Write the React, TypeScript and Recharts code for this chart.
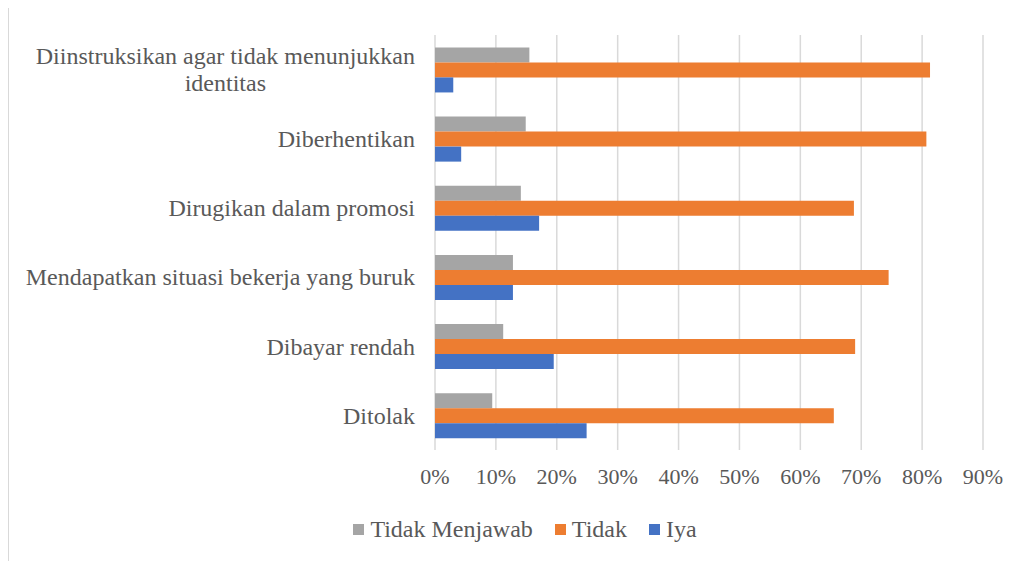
import {
  BarChart,
  Bar,
  XAxis,
  YAxis,
  CartesianGrid,
  Legend,
} from 'recharts'

const categories = [
  'Diinstruksikan agar tidak menunjukkan identitas',
  'Diberhentikan',
  'Dirugikan dalam promosi',
  'Mendapatkan situasi bekerja yang buruk',
  'Dibayar rendah',
  'Ditolak',
]
const tidakMenjawab = [15.5, 14.9, 14.1, 12.8, 11.2, 9.4]
const tidak = [81.3, 80.7, 68.8, 74.5, 69.0, 65.5]
const iya = [3.0, 4.3, 17.1, 12.8, 19.5, 24.9]
const xTicks = [0, 10, 20, 30, 40, 50, 60, 70, 80, 90]

// label wraps as in the original
const wrapped: Record<string, string[]> = {
  'Diinstruksikan agar tidak menunjukkan identitas': ['Diinstruksikan agar tidak menunjukkan', 'identitas'],
}

const FONT = '"Liberation Serif", "Times New Roman", serif'
const TEXT = '#595959'
const FS = 24
const TICK_FS = 22

const data = categories.map((name, i) => ({
  name,
  tidakMenjawab: tidakMenjawab[i],
  tidak: tidak[i],
  iya: iya[i],
}))

const series = [
  { key: 'tidakMenjawab', name: 'Tidak Menjawab', color: '#A5A5A5' },
  { key: 'tidak', name: 'Tidak', color: '#ED7D31' },
  { key: 'iya', name: 'Iya', color: '#4472C4' },
]

let ctx: CanvasRenderingContext2D | null = null
function textWidth(s: string): number {
  if (!ctx) ctx = document.createElement('canvas').getContext('2d')
  if (!ctx) return s.length * FS * 0.45
  ctx.font = `${FS}px ${FONT}`
  return ctx.measureText(s).width
}

function CategoryTick(props: any) {
  const { x, y, payload } = props
  const right = x - 12
  const lines = wrapped[payload.value]
  if (!lines) {
    return (
      <text x={right} y={y} dy="0.35em" textAnchor="end" fill={TEXT} fontSize={FS} fontFamily={FONT}>
        {payload.value}
      </text>
    )
  }
  const maxW = Math.max(...lines.map(textWidth))
  const cx = right - maxW / 2
  const lh = 27
  const top = y - ((lines.length - 1) * lh) / 2
  return (
    <text textAnchor="middle" fill={TEXT} fontSize={FS} fontFamily={FONT}>
      {lines.map((l, i) => (
        <tspan key={i} x={cx} y={top + i * lh} dy="0.35em">
          {l}
        </tspan>
      ))}
    </text>
  )
}

function LegendContent() {
  return (
    <div
      style={{
        display: 'flex',
        justifyContent: 'center',
        alignItems: 'center',
        height: 69,
        paddingLeft: 80,
        paddingTop: 10,
        boxSizing: 'border-box',
        fontFamily: FONT,
        fontSize: FS,
        color: TEXT,
      }}
    >
      {series.map((s) => (
        <div key={s.key} style={{ display: 'flex', alignItems: 'center', marginRight: 22 }}>
          <span style={{ width: 11, height: 11, background: s.color, marginRight: 6, display: 'inline-block' }} />
          <span>{s.name}</span>
        </div>
      ))}
    </div>
  )
}

export default function App() {
  return (
    <div
      style={{
        position: 'relative',
        top: -2,
        width: 1021,
        height: 555,
        borderTop: '1px solid #D9D9D9',
        borderLeft: '1px solid #D9D9D9',
        background: '#fff',
      }}
    >
      <BarChart
        width={1020}
        height={552}
        data={data}
        layout="vertical"
        margin={{ top: 28, right: 46, bottom: 0, left: 0 }}
        barCategoryGap="18%"
        barGap={0}
      >
        <CartesianGrid horizontal={false} stroke="#D9D9D9" strokeWidth={1.5} />
        <XAxis
          type="number"
          domain={[0, 90]}
          ticks={xTicks}
          tickFormatter={(v) => `${v}%`}
          axisLine={false}
          tickLine={false}
          height={40}
          tickMargin={12}
          tick={{ fill: TEXT, fontSize: TICK_FS, fontFamily: FONT }}
        />
        <YAxis
          type="category"
          dataKey="name"
          width={426}
          axisLine={false}
          tickLine={false}
          tick={<CategoryTick />}
          interval={0}
        />
        <Legend verticalAlign="bottom" content={<LegendContent />} />
        {series.map((s) => (
          <Bar key={s.key} dataKey={s.key} name={s.name} fill={s.color} isAnimationActive={false} />
        ))}
      </BarChart>
    </div>
  )
}
